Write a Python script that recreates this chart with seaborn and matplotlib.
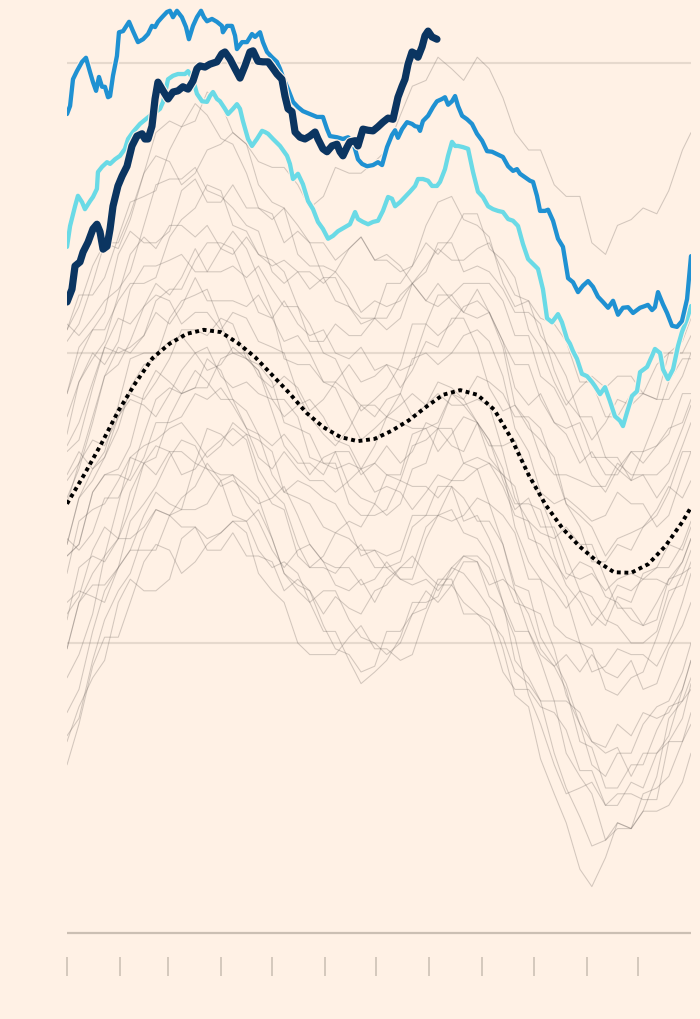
import numpy as np
import pandas as pd
import matplotlib
matplotlib.use("Agg")
import matplotlib.pyplot as plt
import matplotlib.patheffects as pe
import seaborn as sns

BG = "#fff1e5"

# ---------------- data (day of year, value) ----------------
month_starts = [0, 31, 59, 90, 120, 151, 181, 212, 243, 273, 304, 334]
grid_values = [20.0, 20.5, 21.0]
baseline_value = 19.5

grey_days = [0,7,15,22,30,37,45,52,60,67,75,82,90,97,105,112,120,127,135,142,150,157,165,172,
             180,187,195,202,210,217,225,232,240,247,255,262,270,277,285,292,300,307,315,322,
             330,337,345,352,360,365]

grey_01 = [20.54,20.60,20.60,20.63,20.70,20.76,20.77,20.78,20.85,20.89,20.90,20.95,20.93,20.88,20.86,20.83,20.82,20.82,20.79,20.75,20.77,20.82,20.81,20.81,20.83,20.85,20.91,20.96,20.97,21.01,20.99,20.97,21.01,20.99,20.94,20.88,20.85,20.85,20.79,20.77,20.77,20.69,20.67,20.72,20.73,20.75,20.74,20.78,20.85,20.88]
grey_02 = [20.54,20.58,20.65,20.69,20.68,20.73,20.81,20.84,20.83,20.79,20.81,20.85,20.86,20.88,20.86,20.79,20.76,20.75,20.67,20.65,20.65,20.64,20.68,20.70,20.66,20.66,20.64,20.65,20.72,20.76,20.77,20.73,20.72,20.70,20.62,20.58,20.59,20.56,20.55,20.52,20.45,20.45,20.39,20.39,20.43,20.43,20.48,20.50,20.50,20.53]
grey_03 = [20.43,20.49,20.54,20.57,20.67,20.71,20.69,20.69,20.71,20.78,20.80,20.76,20.76,20.79,20.75,20.75,20.74,20.69,20.71,20.69,20.63,20.59,20.58,20.55,20.56,20.62,20.62,20.65,20.69,20.67,20.70,20.74,20.74,20.68,20.66,20.63,20.54,20.51,20.45,20.41,20.44,20.46,20.44,20.46,20.46,20.43,20.42,20.50,20.52,20.56]
grey_04 = [20.55,20.53,20.56,20.59,20.61,20.64,20.72,20.79,20.80,20.80,20.82,20.78,20.77,20.75,20.72,20.71,20.64,20.62,20.64,20.64,20.62,20.64,20.61,20.57,20.59,20.58,20.59,20.62,20.59,20.58,20.60,20.62,20.62,20.62,20.59,20.53,20.53,20.46,20.44,20.40,20.34,20.29,20.26,20.30,20.28,20.33,20.34,20.36,20.43,20.43]
grey_05 = [20.36,20.45,20.49,20.52,20.60,20.67,20.70,20.68,20.72,20.72,20.70,20.72,20.68,20.67,20.70,20.67,20.66,20.64,20.58,20.52,20.52,20.55,20.53,20.53,20.56,20.56,20.60,20.62,20.59,20.62,20.59,20.57,20.61,20.57,20.52,20.44,20.41,20.43,20.38,20.37,20.38,20.32,20.32,20.32,20.28,20.29,20.29,20.31,20.37,20.41]
grey_06 = [20.34,20.38,20.45,20.51,20.50,20.51,20.53,20.59,20.61,20.61,20.66,20.69,20.69,20.68,20.62,20.57,20.56,20.59,20.55,20.53,20.54,20.50,20.49,20.51,20.47,20.48,20.47,20.48,20.55,20.60,20.60,20.57,20.56,20.57,20.52,20.48,20.48,20.42,20.38,20.36,20.31,20.33,20.29,20.29,20.33,20.31,20.34,20.37,20.38,20.42]
grey_07 = [20.39,20.45,20.50,20.48,20.52,20.61,20.65,20.65,20.66,20.67,20.64,20.64,20.68,20.71,20.68,20.63,20.57,20.49,20.48,20.48,20.45,20.45,20.48,20.45,20.46,20.48,20.44,20.47,20.52,20.51,20.56,20.56,20.51,20.44,20.40,20.41,20.37,20.35,20.32,20.24,20.22,20.20,20.15,20.18,20.19,20.20,20.23,20.27,20.25,20.28]
grey_08 = [20.28,20.31,20.39,20.46,20.51,20.50,20.53,20.57,20.55,20.58,20.63,20.59,20.59,20.59,20.58,20.60,20.56,20.52,20.53,20.50,20.45,20.44,20.39,20.35,20.37,20.39,20.43,20.49,20.50,20.48,20.50,20.53,20.54,20.52,20.46,20.37,20.33,20.26,20.24,20.25,20.23,20.21,20.22,20.26,20.24,20.24,20.20,20.22,20.29,20.33]
grey_09 = [20.29,20.33,20.30,20.32,20.37,20.44,20.48,20.49,20.56,20.59,20.60,20.61,20.55,20.50,20.50,20.46,20.44,20.46,20.44,20.40,20.42,20.45,20.43,20.41,20.41,20.39,20.41,20.43,20.41,20.45,20.44,20.42,20.46,20.45,20.43,20.39,20.39,20.37,20.30,20.24,20.20,20.14,20.14,20.17,20.16,20.20,20.22,20.26,20.33,20.33]
grey_10 = [20.25,20.30,20.38,20.46,20.48,20.52,20.58,20.60,20.59,20.55,20.57,20.57,20.54,20.57,20.56,20.52,20.51,20.50,20.43,20.39,20.36,20.34,20.37,20.41,20.39,20.42,20.43,20.39,20.41,20.43,20.41,20.41,20.42,20.41,20.33,20.25,20.21,20.19,20.18,20.20,20.17,20.17,20.11,20.06,20.06,20.03,20.07,20.11,20.14,20.18]
grey_11 = [20.24,20.31,20.35,20.34,20.39,20.43,20.42,20.45,20.49,20.54,20.54,20.53,20.56,20.55,20.49,20.47,20.42,20.39,20.41,20.42,20.39,20.35,20.34,20.30,20.31,20.34,20.31,20.33,20.38,20.37,20.43,20.42,20.38,20.34,20.34,20.35,20.29,20.25,20.19,20.12,20.11,20.12,20.09,20.11,20.12,20.11,20.13,20.17,20.16,20.20]
grey_12 = [20.15,20.17,20.26,20.29,20.30,20.34,20.43,20.47,20.45,20.43,20.44,20.44,20.49,20.50,20.49,20.47,20.40,20.34,20.31,20.31,20.29,20.33,20.33,20.29,20.31,20.29,20.29,20.36,20.37,20.38,20.43,20.41,20.38,20.35,20.28,20.23,20.25,20.20,20.20,20.15,20.09,20.05,20.03,20.08,20.07,20.12,20.13,20.13,20.17,20.21]
grey_13 = [20.17,20.25,20.28,20.32,20.39,20.42,20.41,20.39,20.43,20.47,20.50,20.51,20.46,20.44,20.45,20.43,20.42,20.42,20.39,20.32,20.31,20.31,20.24,20.22,20.22,20.23,20.28,20.34,20.35,20.37,20.34,20.33,20.38,20.35,20.30,20.20,20.14,20.11,20.03,20.01,20.00,19.95,19.96,19.99,19.98,19.98,19.96,20.00,20.07,20.12]
grey_14 = [20.18,20.16,20.19,20.25,20.25,20.29,20.36,20.42,20.44,20.43,20.47,20.45,20.42,20.42,20.37,20.32,20.30,20.33,20.30,20.28,20.28,20.26,20.28,20.30,20.26,20.27,20.26,20.23,20.26,20.29,20.28,20.28,20.30,20.31,20.27,20.22,20.21,20.15,20.11,20.08,20.00,19.99,19.92,19.91,19.94,19.95,20.01,20.07,20.12,20.13]
grey_15 = [19.99,20.07,20.12,20.15,20.24,20.32,20.34,20.35,20.37,20.38,20.35,20.32,20.34,20.38,20.36,20.35,20.33,20.26,20.25,20.24,20.20,20.19,20.21,20.20,20.24,20.29,20.28,20.27,20.27,20.25,20.28,20.31,20.30,20.24,20.22,20.19,20.11,20.11,20.09,20.06,20.09,20.08,20.04,20.03,20.00,20.00,20.02,20.09,20.10,20.14]
grey_16 = [20.15,20.17,20.26,20.29,20.29,20.28,20.32,20.38,20.38,20.39,20.43,20.42,20.44,20.41,20.37,20.36,20.29,20.26,20.28,20.27,20.25,20.24,20.20,20.15,20.16,20.15,20.16,20.22,20.22,20.22,20.27,20.25,20.21,20.21,20.17,20.10,20.09,20.01,19.97,19.93,19.86,19.83,19.82,19.86,19.84,19.88,19.87,19.88,19.92,19.97]
grey_17 = [20.04,20.13,20.15,20.14,20.18,20.26,20.31,20.29,20.33,20.33,20.31,20.37,20.36,20.34,20.36,20.30,20.26,20.24,20.17,20.13,20.15,20.19,20.18,20.16,20.16,20.13,20.14,20.20,20.22,20.27,20.27,20.21,20.22,20.18,20.12,20.07,20.06,20.05,19.99,19.91,19.86,19.79,19.77,19.81,19.81,19.86,19.89,19.90,19.95,20.00]
grey_18 = [19.94,19.98,20.05,20.15,20.18,20.18,20.20,20.23,20.22,20.23,20.31,20.30,20.27,20.28,20.26,20.24,20.25,20.27,20.22,20.17,20.14,20.10,20.09,20.11,20.07,20.11,20.13,20.13,20.20,20.22,20.21,20.22,20.25,20.24,20.17,20.09,20.05,19.99,19.96,19.98,19.95,19.98,19.95,19.94,19.97,19.92,19.93,19.99,20.03,20.07]
grey_19 = [20.07,20.09,20.08,20.07,20.13,20.21,20.24,20.27,20.32,20.35,20.34,20.30,20.29,20.29,20.24,20.21,20.16,20.13,20.16,20.17,20.14,20.13,20.13,20.10,20.11,20.14,20.11,20.10,20.11,20.09,20.12,20.15,20.14,20.10,20.11,20.09,20.02,19.97,19.90,19.81,19.77,19.74,19.66,19.68,19.68,19.71,19.77,19.87,19.90,19.92]
grey_20 = [19.84,19.87,19.97,20.04,20.09,20.12,20.19,20.23,20.22,20.20,20.20,20.18,20.19,20.21,20.21,20.23,20.18,20.12,20.10,20.09,20.05,20.08,20.06,20.05,20.09,20.10,20.13,20.15,20.12,20.10,20.13,20.15,20.15,20.13,20.07,19.97,19.94,19.90,19.90,19.90,19.88,19.83,19.81,19.82,19.77,19.81,19.81,19.84,19.92,19.97]
grey_21 = [19.99,20.07,20.10,20.10,20.13,20.16,20.16,20.16,20.22,20.25,20.27,20.31,20.28,20.22,20.21,20.16,20.13,20.14,20.12,20.07,20.09,20.09,20.04,20.01,20.00,19.98,20.00,20.05,20.06,20.11,20.11,20.05,20.05,20.04,20.01,19.95,19.93,19.90,19.81,19.75,19.70,19.65,19.66,19.69,19.68,19.71,19.71,19.72,19.76,19.81]
grey_22 = [19.79,19.86,19.96,20.01,20.01,20.07,20.14,20.17,20.16,20.12,20.14,20.17,20.19,20.21,20.19,20.12,20.09,20.07,20.00,19.98,19.98,19.98,20.01,20.03,19.99,19.99,19.97,19.98,20.05,20.10,20.10,20.07,20.05,20.03,19.95,19.92,19.92,19.89,19.88,19.85,19.78,19.78,19.72,19.72,19.76,19.75,19.81,19.83,19.83,19.86]
grey_23 = [19.83,19.89,19.94,19.97,20.07,20.11,20.09,20.09,20.11,20.18,20.20,20.16,20.16,20.19,20.15,20.15,20.14,20.09,20.11,20.09,20.03,19.99,19.98,19.95,19.96,20.02,20.02,20.05,20.09,20.07,20.10,20.14,20.14,20.08,20.06,20.01,19.91,19.86,19.79,19.74,19.75,19.76,19.72,19.74,19.74,19.73,19.73,19.83,19.87,19.93]
grey_24 = [19.88,19.92,20.02,20.09,20.13,20.16,20.22,20.26,20.24,20.23,20.23,20.24,20.28,20.29,20.27,20.25,20.18,20.12,20.09,20.07,20.02,20.02,19.97,19.93,19.95,19.97,20.01,20.07,20.07,20.08,20.13,20.12,20.09,20.06,19.99,19.91,19.89,19.80,19.74,19.69,19.61,19.58,19.63,19.69,19.68,19.74,19.75,19.77,19.83,19.88]
grey_25 = [20.43,20.51,20.54,20.54,20.59,20.62,20.62,20.63,20.70,20.73,20.75,20.79,20.78,20.72,20.71,20.67,20.65,20.66,20.64,20.61,20.63,20.63,20.58,20.56,20.56,20.54,20.56,20.62,20.64,20.69,20.69,20.64,20.65,20.64,20.61,20.57,20.57,20.55,20.47,20.42,20.39,20.35,20.38,20.42,20.41,20.43,20.42,20.42,20.46,20.50]
grey_26 = [20.52,20.55,20.62,20.69,20.69,20.74,20.81,20.88,20.90,20.89,20.93,20.91,20.87,20.86,20.81,20.75,20.73,20.75,20.72,20.69,20.69,20.66,20.68,20.70,20.66,20.67,20.65,20.62,20.65,20.68,20.66,20.66,20.68,20.69,20.64,20.60,20.59,20.53,20.50,20.46,20.39,20.39,20.32,20.30,20.33,20.33,20.39,20.45,20.49,20.49]
grey_27 = [20.17,20.25,20.30,20.33,20.41,20.49,20.50,20.50,20.52,20.53,20.50,20.47,20.48,20.51,20.49,20.48,20.45,20.38,20.37,20.36,20.31,20.30,20.31,20.30,20.34,20.39,20.38,20.37,20.37,20.33,20.36,20.39,20.38,20.32,20.29,20.27,20.18,20.17,20.14,20.11,20.14,20.13,20.08,20.07,20.04,20.03,20.04,20.11,20.12,20.16]
grey_28 = [20.33,20.35,20.44,20.51,20.56,20.55,20.58,20.62,20.60,20.63,20.68,20.64,20.64,20.65,20.63,20.65,20.61,20.58,20.58,20.55,20.50,20.49,20.44,20.40,20.42,20.44,20.48,20.55,20.55,20.53,20.55,20.58,20.59,20.57,20.51,20.41,20.38,20.32,20.29,20.29,20.28,20.27,20.27,20.31,20.29,20.29,20.25,20.28,20.34,20.38]
grey_29 = [20.12,20.21,20.23,20.24,20.28,20.32,20.31,20.32,20.39,20.43,20.44,20.49,20.47,20.42,20.40,20.36,20.34,20.36,20.33,20.29,20.32,20.33,20.27,20.25,20.24,20.22,20.24,20.30,20.31,20.37,20.37,20.31,20.32,20.31,20.29,20.24,20.24,20.23,20.15,20.10,20.07,20.03,20.06,20.10,20.09,20.11,20.11,20.10,20.14,20.18]
grey_30 = [20.05,20.08,20.16,20.20,20.18,20.23,20.31,20.34,20.33,20.29,20.30,20.33,20.35,20.37,20.35,20.28,20.24,20.23,20.15,20.13,20.13,20.12,20.15,20.17,20.13,20.13,20.11,20.11,20.18,20.22,20.23,20.19,20.18,20.15,20.07,20.02,20.02,19.98,19.96,19.92,19.83,19.82,19.75,19.75,19.79,19.79,19.85,19.89,19.90,19.94]

grey_series = [grey_01, grey_02, grey_03, grey_04, grey_05, grey_06, grey_07, grey_08,
               grey_09, grey_10, grey_11, grey_12, grey_13, grey_14, grey_15, grey_16,
               grey_17, grey_18, grey_19, grey_20, grey_21, grey_22, grey_23, grey_24,
               grey_25, grey_26, grey_27, grey_28, grey_29, grey_30]

mean_days = [0,10,20,30,40,50,60,70,80,90,100,110,120,130,140,150,160,170,180,
             190,200,210,220,230,240,250,260,270,280,290,300,310,320,330,340,350,360,365]
mean_vals = [20.240,20.290,20.343,20.400,20.448,20.491,20.516,20.533,20.540,20.536,
             20.517,20.493,20.462,20.431,20.397,20.372,20.355,20.348,20.352,20.366,
             20.384,20.407,20.428,20.436,20.428,20.402,20.352,20.290,20.238,20.197,
             20.166,20.141,20.122,20.121,20.136,20.167,20.209,20.234]

blue_days = [0.0,1.8,3.5,5.8,8.8,11.1,13.5,15.2,17.0,18.7,20.5,22.2,24.0,25.2,26.9,29.2,30.4,32.8,
             36.3,38.6,41.5,44.5,47.4,49.7,51.5,53.2,55.6,58.5,60.2,62.0,64.3,67.2,69.6,71.3,73.7,
             76.0,78.4,80.1,81.9,84.8,87.7,90.6,91.2,93.6,96.5,98.3,99.4,102.4,105.3,108.2,110.0,
             112.9,114.6,117.0,119.9,122.8,124.6,126.3,129.3,132.2,135.1,138.0,142.1,146.2,149.7,
             152.1,153.8,157.9,161.4,164.4,167.3,170.2,172.6,175.5,179.0,181.9,184.3,187.2,190.1,
             191.9,193.6,196.0,198.9,201.8,203.6,205.3,206.5,208.2,211.2,214.1,216.4,219.4,221.1,
             222.9,225.2,227.0,228.7,231.1,234.0,236.9,239.8,242.8,245.7,248.6,251.5,255.0,258.0,
             260.9,263.2,265.0,267.9,270.8,272.6,274.9,276.7,279.6,281.4,284.3,287.2,290.1,293.1,
             296.0,298.9,301.8,304.8,307.7,310.6,313.5,316.5,319.4,322.3,325.2,328.2,331.1,335.2,
             338.1,339.8,342.2,343.9,345.7,348.6,351.0,353.9,356.8,359.7,362.7,365.0]
blue_vals = [20.912,20.926,20.972,20.986,21.002,21.009,20.984,20.967,20.952,20.976,20.959,20.959,
             20.941,20.943,20.978,21.012,21.053,21.055,21.071,21.055,21.036,21.041,21.050,21.064,
             21.062,21.071,21.079,21.088,21.090,21.079,21.090,21.079,21.062,21.041,21.064,21.079,
             21.090,21.079,21.072,21.076,21.071,21.064,21.053,21.064,21.064,21.047,21.024,21.036,
             21.036,21.050,21.045,21.053,21.036,21.019,21.010,21.002,20.990,20.976,20.955,20.933,
             20.924,20.917,20.912,20.907,20.907,20.886,20.874,20.872,20.869,20.872,20.864,20.834,
             20.826,20.822,20.824,20.829,20.824,20.855,20.876,20.884,20.871,20.886,20.898,20.895,
             20.891,20.890,20.883,20.900,20.909,20.924,20.934,20.938,20.941,20.928,20.934,20.943,
             20.926,20.909,20.903,20.895,20.878,20.866,20.848,20.847,20.843,20.838,20.822,20.814,
             20.817,20.809,20.803,20.797,20.795,20.771,20.745,20.745,20.747,20.728,20.697,20.683,
             20.629,20.622,20.605,20.616,20.624,20.614,20.597,20.588,20.578,20.590,20.566,20.578,
             20.579,20.569,20.578,20.581,20.583,20.574,20.579,20.605,20.584,20.569,20.547,20.545,
             20.555,20.593,20.667]

cyan_days = [0.0,1.8,4.7,6.4,8.8,10.5,13.5,15.2,17.5,18.1,20.5,23.4,25.2,28.1,31.0,33.9,35.7,38.6,
             42.7,48.5,52.6,54.4,56.2,59.1,62.0,64.9,69.0,70.8,73.7,76.0,79.0,81.9,83.6,85.4,87.7,
             89.5,92.4,94.2,97.1,99.4,101.2,102.9,105.9,108.2,111.1,114.1,115.8,117.6,120.5,124.6,
             128.7,130.4,132.2,135.1,138.0,141.0,143.9,146.8,149.7,152.7,155.6,158.5,162.6,165.5,
             168.5,170.2,173.1,176.1,179.0,181.9,184.8,187.8,190.1,191.9,194.8,197.7,200.6,203.6,
             205.3,208.2,211.2,213.5,216.4,218.2,221.1,222.9,225.2,227.0,228.7,231.6,234.6,237.5,
             240.4,243.3,246.3,249.2,252.1,255.0,258.0,260.9,263.8,266.7,269.7,273.8,275.5,278.4,
             280.8,283.7,287.2,289.5,292.5,294.2,296.0,298.3,301.2,304.2,307.1,308.8,311.8,314.7,
             317.6,320.5,323.5,325.2,327.6,330.5,333.4,335.2,339.3,342.2,343.9,346.9,348.6,351.5,
             354.5,357.4,359.7,362.7,365.0]
cyan_vals = [20.683,20.719,20.753,20.771,20.760,20.748,20.762,20.769,20.783,20.812,20.821,20.829,
             20.826,20.834,20.840,20.852,20.869,20.881,20.895,20.909,20.917,20.921,20.933,20.972,
             20.978,20.981,20.981,20.986,20.972,20.947,20.934,20.933,20.943,20.950,20.938,20.934,
             20.921,20.912,20.921,20.929,20.921,20.900,20.869,20.857,20.869,20.883,20.881,20.878,
             20.869,20.857,20.840,20.826,20.800,20.809,20.791,20.762,20.748,20.726,20.714,20.697,
             20.702,20.710,20.717,20.722,20.743,20.731,20.726,20.722,20.726,20.728,20.745,20.769,
             20.766,20.753,20.760,20.769,20.778,20.788,20.800,20.800,20.797,20.788,20.788,20.795,
             20.817,20.840,20.864,20.857,20.857,20.855,20.852,20.812,20.778,20.769,20.753,20.748,
             20.745,20.743,20.731,20.728,20.719,20.688,20.662,20.650,20.645,20.610,20.560,20.553,
             20.567,20.553,20.524,20.516,20.503,20.490,20.464,20.460,20.450,20.443,20.429,20.441,
             20.417,20.391,20.383,20.374,20.398,20.426,20.434,20.467,20.476,20.495,20.507,20.500,
             20.472,20.455,20.472,20.512,20.536,20.559,20.581]

dark_days = [0.0,2.9,4.7,7.6,9.4,12.3,15.2,17.5,19.3,21.1,23.4,25.2,26.9,29.8,32.2,35.1,38.0,40.9,
             43.9,45.6,47.4,49.7,51.5,53.2,56.2,59.1,62.0,64.9,67.8,70.8,73.7,76.0,77.8,80.7,83.6,
             87.7,90.6,92.4,95.3,98.3,101.2,104.1,107.0,108.8,111.7,114.6,117.6,119.9,122.8,125.7,
             127.5,129.3,131.6,133.4,136.3,139.2,142.1,145.1,146.8,149.7,152.1,155.0,157.9,159.7,
             161.4,163.8,165.5,168.5,170.2,173.1,176.1,179.0,181.9,184.8,187.8,190.7,193.6,196.0,
             197.7,199.5,201.8,203.6,205.3,207.7,209.4,211.2,213.5,216.4]
dark_vals = [20.588,20.610,20.650,20.657,20.674,20.691,20.714,20.722,20.709,20.679,20.684,20.714,
             20.753,20.788,20.805,20.822,20.857,20.874,20.878,20.869,20.869,20.891,20.938,20.967,
             20.952,20.938,20.950,20.952,20.959,20.955,20.969,20.990,20.995,20.993,20.998,21.002,
             21.016,21.019,21.007,20.990,20.974,20.995,21.019,21.021,21.003,21.002,21.002,20.993,
             20.981,20.972,20.943,20.921,20.916,20.881,20.872,20.869,20.874,20.881,20.869,20.852,
             20.847,20.857,20.860,20.847,20.840,20.855,20.864,20.866,20.857,20.886,20.884,20.883,
             20.890,20.898,20.905,20.903,20.941,20.960,20.972,20.998,21.019,21.016,21.010,21.028,
             21.047,21.055,21.045,21.041]

for s in grey_series:
    assert len(s) == len(grey_days), len(s)
assert len(blue_days) == len(blue_vals)
assert len(cyan_days) == len(cyan_vals)
assert len(dark_days) == len(dark_vals)
assert len(mean_days) == len(mean_vals)

# ---------------- figure ----------------
sns.set_theme(style="white")
plt.rcParams["font.family"] = ["DejaVu Sans"]

W, H = 700, 1020
fig = plt.figure(figsize=(W / 100, H / 100), dpi=100, facecolor=BG)
ax_bottom_px = 958
ax = fig.add_axes([67 / W, 1 - ax_bottom_px / H, (691 - 67) / W, ax_bottom_px / H])
ax.set_facecolor(BG)

px_per_unit = 580.0
y_top = 21.0 + 64 / px_per_unit
y_bot = 21.0 - (ax_bottom_px - 64) / px_per_unit
ax.set_ylim(y_bot, y_top)
ax.set_xlim(0, 365)

for gv in grid_values:
    ax.axhline(gv, color="#e6d9cd", lw=1.5, zorder=0)
ax.axhline(baseline_value, color="#cbbfb3", lw=1.6, zorder=1)

rows = []
for k, s in enumerate(grey_series):
    for d, v in zip(grey_days, s):
        rows.append((k, d, v))
grey_df = pd.DataFrame(rows, columns=["line", "day", "value"])

sns.lineplot(data=grey_df, x="day", y="value", units="line", estimator=None,
             color="#6e6560", alpha=0.3, linewidth=0.75, ax=ax, legend=False,
             zorder=2, sort=False)

sns.lineplot(x=mean_days, y=mean_vals, color="black", linewidth=2.8,
             linestyle=(0, (1, 0.95)), ax=ax, zorder=3, sort=False)

halo = lambda lw: [pe.Stroke(linewidth=lw + 1.6, foreground=BG), pe.Normal()]

sns.lineplot(x=cyan_days, y=cyan_vals, color="#6adae6", linewidth=3.1, ax=ax,
             zorder=4, sort=False, path_effects=halo(3.1),
             solid_capstyle="round", solid_joinstyle="round")
sns.lineplot(x=blue_days, y=blue_vals, color="#1f91d2", linewidth=3.1, ax=ax,
             zorder=5, sort=False, path_effects=halo(3.1),
             solid_capstyle="round", solid_joinstyle="round")
sns.lineplot(x=dark_days, y=dark_vals, color="#0b3561", linewidth=5.2, ax=ax,
             zorder=6, sort=False, path_effects=halo(5.2),
             solid_capstyle="round", solid_joinstyle="round")

for sp in ax.spines.values():
    sp.set_visible(False)
ax.set_yticks([])
ax.set_xticks(month_starts)
ax.set_xticklabels([])
ax.tick_params(axis="x", direction="out", length=13.7, width=1.2,
               color="#cdc1b5", bottom=True)
ax.set_xlabel("")
ax.set_ylabel("")
ax.grid(False)

fig.savefig("out.png", dpi=100, facecolor=BG)
